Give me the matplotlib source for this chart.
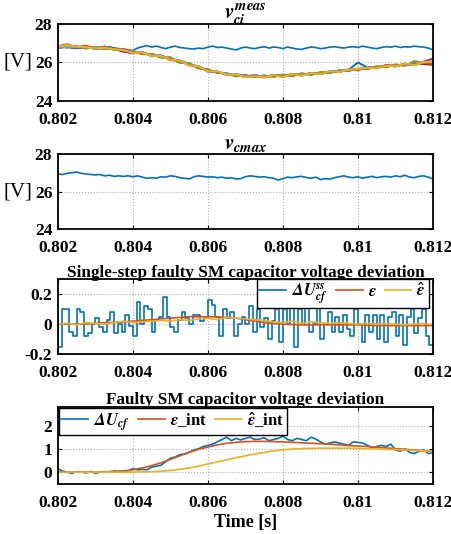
import numpy as np
import matplotlib
matplotlib.use('Agg')
import matplotlib.pyplot as plt

# ---- data ----
# faulty SM capacitor voltage (upper blue line, panel 1)
v_fault = [26.80, 26.78, 26.82, 26.75, 26.80, 26.78, 26.83, 26.80, 26.76, 26.80,
           26.78, 26.82, 26.75, 26.72, 26.70, 26.65, 26.62, 26.75, 26.82, 26.88,
           26.80, 26.85, 26.78, 26.72, 26.80, 26.85, 26.78, 26.75, 26.72, 26.70,
           26.75, 26.72, 26.80, 26.85, 26.78, 26.80, 26.75, 26.70, 26.65, 26.75,
           26.80, 26.75, 26.72, 26.78, 26.82, 26.75, 26.80, 26.78, 26.72, 26.80,
           26.75, 26.70, 26.68, 26.75, 26.80, 26.78, 26.72, 26.75, 26.80, 26.82,
           26.78, 26.75, 26.80, 26.82, 26.78, 26.85, 26.80, 26.75, 26.72, 26.78,
           26.82, 26.80, 26.85, 26.78, 26.82, 26.80, 26.85, 26.82, 26.80, 26.75, 26.65]

# healthy SM capacitor voltages (cluster, panel 1)
v_orange = [26.85, 26.95, 26.80, 26.88, 26.72, 26.82, 26.66, 26.70, 26.52, 26.50, 26.36,
            26.34, 26.16, 26.08, 25.86, 25.80, 25.56, 25.52, 25.36, 25.36, 25.26, 25.30,
            25.24, 25.34, 25.28, 25.40, 25.34, 25.44, 25.42, 25.54, 25.50, 25.64, 25.60,
            25.74, 25.72, 25.86, 25.82, 25.92, 25.88, 26.00, 25.92]
v_purple = [26.76, 26.84, 26.74, 26.82, 26.72, 26.74, 26.70, 26.56, 26.48, 26.54, 26.32,
            26.36, 26.12, 26.10, 25.92, 25.76, 25.58, 25.50, 25.38, 25.38, 25.24, 25.34,
            25.22, 25.36, 25.26, 25.40, 25.32, 25.46, 25.40, 25.52, 25.52, 25.62, 25.62,
            25.74, 25.70, 25.86, 25.80, 25.94, 25.86, 26.04, 26.20]
v_green = [26.82, 26.78, 26.86, 26.72, 26.82, 26.70, 26.72, 26.62, 26.60, 26.42, 26.46,
           26.24, 26.28, 25.98, 25.98, 25.72, 25.62, 25.48, 25.42, 25.30, 25.30, 25.26,
           25.32, 25.24, 25.38, 25.30, 25.44, 25.36, 25.50, 25.46, 25.58, 25.58, 25.68,
           25.68, 25.80, 25.76, 25.90, 25.84, 26.08, 25.96, 26.06]
v_cyan = [26.78, 26.84, 26.78, 26.82, 26.70, 26.84, 26.68, 26.70, 26.52, 26.54, 26.36,
          26.32, 26.18, 26.10, 25.86, 25.82, 25.56, 25.54, 25.41, 25.39, 25.28, 25.34,
          25.26, 25.34, 25.26, 25.40, 25.34, 25.44, 25.42, 25.54, 25.52, 25.64, 25.62,
          25.74, 25.70, 25.84, 25.82, 25.90, 25.90, 26.00, 25.98]
v_dred = [26.84, 26.78, 26.84, 26.74, 26.80, 26.70, 26.74, 26.60, 26.58, 26.44, 26.44,
          26.26, 26.24, 26.00, 25.94, 25.70, 25.64, 25.46, 25.44, 25.28, 25.34, 25.24,
          25.32, 25.26, 25.36, 25.30, 25.42, 25.36, 25.48, 25.46, 25.59, 25.56, 25.68,
          25.66, 25.79, 25.76, 25.88, 25.84, 25.96, 25.92, 25.88]
v_blue2 = [26.76, 26.84, 26.74, 26.84, 26.70, 26.80, 26.66, 26.70, 26.48, 26.54, 26.36,
           26.36, 26.16, 26.10, 25.86, 25.80, 25.52, 25.52, 25.38, 25.40, 25.28, 25.34,
           25.24, 25.34, 25.30, 25.38, 25.34, 25.46, 25.40, 25.54, 25.52, 25.62, 26.00,
           25.74, 25.72, 25.84, 25.80, 25.92, 25.88, 26.00, 25.96]
v_yellow = [26.84, 26.90, 26.82, 26.80, 26.74, 26.76, 26.68, 26.64, 26.50, 26.52, 26.34,
            26.34, 26.14, 26.10, 25.84, 25.80, 25.54, 25.54, 25.36, 25.37, 25.24, 25.28,
            25.22, 25.34, 25.24, 25.40, 25.32, 25.45, 25.40, 25.55, 25.50, 25.62, 25.66,
            25.72, 25.70, 25.82, 25.80, 25.94, 25.86, 26.02, 26.06]

# max capacitor voltage (panel 2)
v_cmax = [26.95, 26.92, 26.98, 27.02, 27.05, 26.98, 26.95, 26.92, 26.90, 26.92,
          26.85, 26.88, 26.82, 26.85, 26.82, 26.85, 26.80, 26.85, 26.78, 26.72,
          26.75, 26.72, 26.80, 26.78, 26.85, 26.82, 26.75, 26.72, 26.68, 26.80,
          26.85, 26.82, 26.78, 26.80, 26.75, 26.78, 26.72, 26.75, 26.68, 26.70,
          26.80, 26.85, 26.82, 26.78, 26.80, 26.75, 26.72, 26.62, 26.70, 26.78,
          26.75, 26.80, 26.82, 26.76, 26.72, 26.78, 26.65, 26.70, 26.68, 26.75,
          26.80, 26.85, 26.78, 26.75, 26.80, 26.72, 26.78, 26.82, 26.75, 26.80,
          26.82, 26.78, 26.85, 26.80, 26.88, 26.78, 26.75, 26.82, 26.85, 26.78, 26.68]

# single-step deviation (panel 3), one value per 0.1 ms step
du_ss = [-0.15, 0.10, 0.10, -0.05, -0.08, 0.10, 0.08, -0.08, -0.06, 0.00,
         0.04, -0.02, -0.05, 0.03, 0.08, -0.06, 0.00, -0.05, 0.06, -0.01,
         -0.08, 0.15, 0.00, 0.12, 0.10, -0.05, 0.03, 0.05, 0.18, 0.05,
         -0.02, -0.05, 0.03, 0.08, 0.04, 0.00, 0.06, 0.06, 0.02, 0.05,
         0.16, 0.13, 0.05, -0.08, 0.10, 0.04, 0.08, -0.08, 0.00, 0.05,
         0.00, 0.12, -0.05, 0.10, -0.02, 0.04, -0.10, 0.02, 0.10, -0.12,
         0.10, 0.00, 0.12, -0.15, 0.10, 0.00, 0.15, -0.05, 0.00, 0.12,
         -0.10, 0.00, 0.08, -0.05, 0.05, -0.05, 0.06, -0.03, -0.08, 0.10,
         0.00, -0.12, 0.06, -0.05, 0.06, -0.10, 0.06, -0.12, 0.05, 0.08,
         -0.08, 0.06, -0.14, 0.05, 0.10, -0.06, 0.04, 0.10, -0.08, -0.14]
eps = [0.00, 0.00, 0.00, 0.00, 0.005, 0.01, 0.012, 0.015, 0.02, 0.025, 0.03,
       0.035, 0.04, 0.045, 0.05, 0.05, 0.05, 0.048, 0.045, 0.04, 0.03, 0.02,
       0.01, 0.005, 0.0, -0.003, -0.005, -0.005, -0.005, -0.005, -0.005, -0.005,
       -0.005, -0.008, -0.01, -0.01, -0.01, -0.01, -0.01, -0.01, -0.01]
eps_hat = [0.0, 0.005, -0.005, 0.01, 0.005, 0.0, 0.01, 0.02, 0.01, 0.015, 0.02,
           0.025, 0.02, 0.03, 0.025, 0.035, 0.04, 0.03, 0.045, 0.04, 0.035, 0.03,
           0.025, 0.015, 0.01, 0.02, 0.005, 0.015, 0.01, 0.005, 0.01, 0.005, 0.0,
           0.005, 0.0, 0.005, 0.0, -0.005, 0.0, 0.005, -0.005]

# integrated deviation (panel 4)
du_cf = [0.15, 0.05, 0.00, -0.05, 0.02, 0.00, -0.03, 0.03, -0.05, 0.00,
         0.02, 0.00, 0.05, 0.02, 0.00, 0.05, 0.15, 0.10, 0.12, 0.10,
         0.22, 0.25, 0.30, 0.45, 0.60, 0.65, 0.75, 0.78, 0.85, 0.95,
         1.00, 1.10, 1.15, 1.20, 1.30, 1.40, 1.50, 1.35, 1.45, 1.38,
         1.45, 1.50, 1.40, 1.42, 1.48, 1.35, 1.40, 1.45, 1.55, 1.40,
         1.35, 1.45, 1.40, 1.35, 1.50, 1.42, 1.30, 1.20, 1.25, 1.30,
         1.25, 1.20, 1.15, 1.30, 1.28, 1.25, 1.15, 1.05, 1.10, 1.15,
         1.10, 1.20, 0.95, 0.90, 1.00, 0.85, 0.80, 0.90, 0.95, 0.80, 0.85]
eps_int = [0, 0, 0, 0, 0, 0.01, 0.03, 0.06, 0.1, 0.18, 0.28, 0.4, 0.55, 0.7, 0.85,
           0.98, 1.08, 1.17, 1.24, 1.28, 1.31, 1.32, 1.32, 1.31, 1.3, 1.28, 1.26,
           1.24, 1.22, 1.2, 1.17, 1.14, 1.12, 1.1, 1.07, 1.04, 1.01, 0.98, 0.95, 0.92, 0.9]
eps_hat_int = [0, 0, 0, 0, 0, 0, 0, 0, 0.005, 0.01, 0.02, 0.04, 0.07, 0.12, 0.18,
               0.26, 0.35, 0.44, 0.53, 0.62, 0.70, 0.78, 0.85, 0.91, 0.96, 0.99,
               1.01, 1.02, 1.03, 1.03, 1.03, 1.03, 1.02, 1.01, 1.0, 0.98, 0.97,
               0.95, 0.93, 0.91, 0.88]

xticks = [0.802, 0.804, 0.806, 0.808, 0.81, 0.812]
xticklabels = ['0.802', '0.804', '0.806', '0.808', '0.81', '0.812']

C_BLUE = '#0072BD'
C_ORANGE = '#D95319'
C_YELLOW = '#EDB120'
C_PURPLE = '#7E2F8E'
C_GREEN = '#77AC30'
C_CYAN = '#4DBEEE'
C_DRED = '#A2142F'

plt.rcParams['font.family'] = ['Liberation Serif', 'DejaVu Serif']
plt.rcParams['font.weight'] = 'bold'
plt.rcParams['font.size'] = 12
plt.rcParams['mathtext.fontset'] = 'stix'


def t(arr):
    return np.linspace(0.802, 0.812, len(arr))


def style(ax, ylim, yticks):
    ax.set_xlim(0.802, 0.812)
    ax.set_ylim(*ylim)
    ax.set_xticks(xticks)
    ax.set_xticklabels(xticklabels)
    ax.set_yticks(yticks)
    ax.grid(True, linestyle=':', color='#b0b0b0', linewidth=0.8)
    ax.tick_params(axis='x', direction='in', length=3, width=0.8, top=True,
                   labelsize=12.5, pad=8)
    ax.tick_params(axis='y', direction='in', length=3, width=0.8, right=True,
                   labelsize=12.5, pad=4)
    for sp in ax.spines.values():
        sp.set_linewidth(1.3)
    for lab in ax.get_xticklabels() + ax.get_yticklabels():
        lab.set_fontweight('bold')


fig = plt.figure(figsize=(4.52, 5.34), dpi=100)
L, W = 0.128, 0.830
ax1 = fig.add_axes([L, 0.811, W, 0.144])
ax2 = fig.add_axes([L, 0.571, W, 0.140])
ax3 = fig.add_axes([L, 0.337, W, 0.140])
ax4 = fig.add_axes([L, 0.094, W, 0.144])

# panel 1
lw = 1.2
ax1.plot(t(v_fault), v_fault, color=C_BLUE, lw=lw)
for arr, c in [(v_blue2, C_BLUE), (v_dred, C_DRED), (v_purple, C_PURPLE),
               (v_green, C_GREEN), (v_cyan, C_CYAN), (v_orange, C_ORANGE),
               (v_yellow, C_YELLOW)]:
    ax1.plot(t(arr), arr, color=c, lw=1.4)
style(ax1, (24, 28), [24, 26, 28])
ax1.set_title(r'$v_{ci}^{meas}$', fontsize=15, pad=4)
ax1.set_ylabel('[V]', rotation=0, fontsize=15, fontweight='normal', labelpad=12, va='center')

# panel 2
ax2.plot(t(v_cmax), v_cmax, color=C_BLUE, lw=lw)
style(ax2, (24, 28), [24, 26, 28])
ax2.set_title(r'$v_{cmax}$', fontsize=15, pad=4)
ax2.set_ylabel('[V]', rotation=0, fontsize=15, fontweight='normal', labelpad=12, va='center')

# panel 3
x_ss = np.linspace(0.802, 0.812, len(du_ss) + 1)
ax3.step(x_ss, du_ss + [du_ss[-1]], where='post', color=C_BLUE, lw=lw,
         label=r'$\mathbfit{\Delta U_{cf}^{ss}}$')
ax3.plot(t(eps), eps, color=C_ORANGE, lw=lw, label=r'$\mathbfit{\epsilon}$')
ax3.plot(t(eps_hat), eps_hat, color=C_YELLOW, lw=lw, label=r'$\hat{\mathbfit{\epsilon}}$')
style(ax3, (-0.2, 0.3), [-0.2, 0, 0.2])
ax3.set_yticklabels(['-0.2', '0', '0.2'])
ax3.set_title('Single-step faulty SM capacitor voltage deviation', fontsize=12.3,
              fontweight='bold', pad=2)
leg3 = ax3.legend(loc='upper right', bbox_to_anchor=(0.988, 1.01), ncol=3, fontsize=12,
                  borderaxespad=0, handlelength=1.6, handletextpad=0.3,
                  columnspacing=0.5, borderpad=0.15, fancybox=False,
                  framealpha=1, edgecolor='black')
leg3.get_frame().set_linewidth(1.0)

# panel 4
ax4.plot(t(du_cf), du_cf, color=C_BLUE, lw=lw, label=r'$\mathbfit{\Delta U_{cf}}$')
ax4.plot(t(eps_int), eps_int, color=C_ORANGE, lw=lw, label=r'$\mathbfit{\epsilon}$_int')
ax4.plot(t(eps_hat_int), eps_hat_int, color=C_YELLOW, lw=lw,
         label=r'$\hat{\mathbfit{\epsilon}}$_int')
style(ax4, (-0.5, 2.8), [0, 1, 2])
ax4.set_title('Faulty SM capacitor voltage deviation', fontsize=12.3,
              fontweight='bold', pad=2)
ax4.set_xlabel('Time [s]', fontsize=13, fontweight='bold', labelpad=2)
leg4 = ax4.legend(loc='upper left', ncol=3, fontsize=12, borderaxespad=0.05,
                  handlelength=1.6, handletextpad=0.3, columnspacing=0.5,
                  borderpad=0.15, fancybox=False, framealpha=1, edgecolor='black')
leg4.get_frame().set_linewidth(1.0)

fig.savefig('out.png', dpi=100)
